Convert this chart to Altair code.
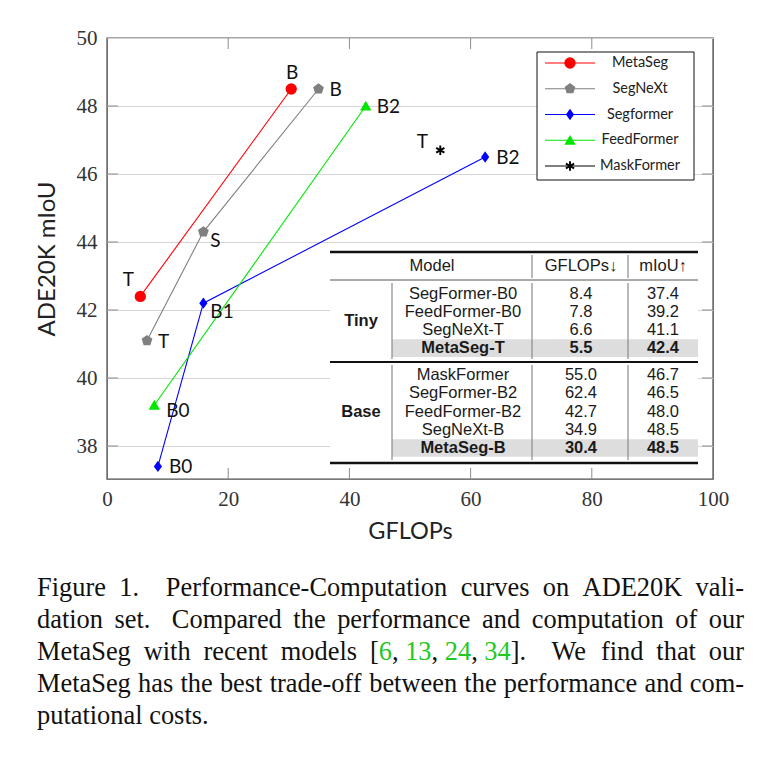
import altair as alt
import pandas as pd

# ---------------- data ----------------
series_names = ["MetaSeg", "SegNeXt", "Segformer", "FeedFormer", "MaskFormer"]
series_colors = ["#ff0000", "#808080", "#0000ff", "#00e600", "#000000"]

metaseg_gflops = [5.5, 30.4]
metaseg_miou = [42.4, 48.5]
metaseg_tags = ["T", "B"]
segnext_gflops = [6.6, 15.9, 34.9]
segnext_miou = [41.1, 44.3, 48.5]
segnext_tags = ["T", "S", "B"]
segformer_gflops = [8.4, 15.9, 62.4]
segformer_miou = [37.4, 42.2, 46.5]
segformer_tags = ["B0", "B1", "B2"]
feedformer_gflops = [7.8, 42.7]
feedformer_miou = [39.2, 48.0]
feedformer_tags = ["B0", "B2"]
maskformer_gflops = [55.0]
maskformer_miou = [46.7]
maskformer_tags = ["T"]

x_ticks = [0, 20, 40, 60, 80, 100]
y_ticks = [38, 40, 42, 44, 46, 48, 50]

table_header = ["Model", "GFLOPs\u2193", "mIoU\u2191"]
table_groups = ["Tiny", "Tiny", "Tiny", "Tiny", "Base", "Base", "Base", "Base", "Base"]
table_models = ["SegFormer-B0", "FeedFormer-B0", "SegNeXt-T", "MetaSeg-T",
                "MaskFormer", "SegFormer-B2", "FeedFormer-B2", "SegNeXt-B", "MetaSeg-B"]
table_gflops = ["8.4", "7.8", "6.6", "5.5", "55.0", "62.4", "42.7", "34.9", "30.4"]
table_miou = ["37.4", "39.2", "41.1", "42.4", "46.7", "46.5", "48.0", "48.5", "48.5"]
table_bold = [False, False, False, True, False, False, False, False, True]

caption_lines = [
    ["Figure", "1.", "Performance-Computation", "curves", "on", "ADE20K", "vali-"],
    ["dation", "set.", "Compared", "the", "performance", "and", "computation", "of", "our"],
    ["MetaSeg", "with", "recent", "models", "[6, 13, 24, 34].", "We", "find", "that", "our"],
    ["MetaSeg", "has", "the", "best", "trade-off", "between", "the", "performance", "and", "com-"],
    ["putational", "costs."],
]

# ---------------- layout / style ----------------
X0, Y0, W, H = 107, 38, 606, 441
XMIN, XMAX = 0.0, 100.0
YMAX = 50.0
YMIN = YMAX - H / 34.0


def px2x(px):
    return XMIN + (px - X0) / W * (XMAX - XMIN)


def px2y(py):
    return YMAX - (py - Y0) / H * (YMAX - YMIN)


XS = alt.Scale(domain=[XMIN, XMAX], nice=False, zero=False)
YS = alt.Scale(domain=[YMIN, YMAX], nice=False, zero=False)
XAXIS = alt.Axis(values=x_ticks, grid=False, ticks=False, domain=False,
                 labelFont="Liberation Serif", labelFontSize=21, labelColor="#333333",
                 labelPadding=9, labelFlush=False, title="GFLOPs", titleFont="Lato",
                 titleFontSize=23.5, titleFontWeight="normal", titleColor="#222222",
                 titlePadding=10)
YAXIS = alt.Axis(values=y_ticks, grid=True, gridColor="#d4d4d4", gridWidth=1,
                 ticks=False, domain=False, labelFont="Liberation Serif",
                 labelFontSize=21, labelColor="#333333", labelPadding=10,
                 labelFlush=False, title="ADE20K mIoU", titleFont="Lato",
                 titleFontSize=24, titleFontWeight="normal", titleColor="#222222",
                 titlePadding=17)


def X(f, **k):
    return alt.X(f + ":Q", scale=XS, axis=XAXIS, **k)


def Y(f, **k):
    return alt.Y(f + ":Q", scale=YS, axis=YAXIS, **k)


CS = alt.Scale(domain=series_names, range=series_colors)
PENT = "M0,-1L0.951,-0.309L0.588,0.809L-0.588,0.809L-0.951,-0.309Z"
DIAM = "M0,-1L0.72,0L0,1L-0.72,0Z"
TRI = "M0,-0.95L1,0.8L-1,0.8Z"
AST = "M0,-1L0,1M-0.866,-0.5L0.866,0.5M-0.866,0.5L0.866,-0.5"
SS = alt.Scale(domain=series_names, range=["circle", PENT, DIAM, TRI, AST])

label_pos = [["above left", "above"], ["right", "below right", "right"],
             ["right", "below right", "right"], ["right low", "right"], ["left"]]
pos_styles = {
    "right": ("left", 11, 1),
    "below right": ("left", 7, 9),
    "right low": ("left", 12, 6),
    "above": ("center", 1, -16),
    "above left": ("center", -12, -16),
    "left": ("center", -18, -8),
}

# ---------------- plot data frame ----------------
rows = []
for name, gx, gy, tags, poss in zip(
        series_names,
        [metaseg_gflops, segnext_gflops, segformer_gflops, feedformer_gflops, maskformer_gflops],
        [metaseg_miou, segnext_miou, segformer_miou, feedformer_miou, maskformer_miou],
        [metaseg_tags, segnext_tags, segformer_tags, feedformer_tags, maskformer_tags],
        label_pos):
    for i, (a, b, t, p) in enumerate(zip(gx, gy, tags, poss)):
        rows.append(dict(series=name, gflops=a, miou=b, tag=t, idx=i, pos=p))
df = pd.DataFrame(rows)
base = alt.Chart(df)

layers = []

# inward ticks
tick_len = 11
xt = alt.Chart(pd.DataFrame({"v": x_ticks[1:-1]}))
layers.append(xt.mark_rule(color="#8c8c8c", strokeWidth=1).encode(
    x=X("v"), y=alt.value(0), y2=alt.value(tick_len)))
layers.append(xt.mark_rule(color="#8c8c8c", strokeWidth=1).encode(
    x=X("v"), y=alt.value(H - tick_len), y2=alt.value(H)))
yt = alt.Chart(pd.DataFrame({"v": y_ticks[:-1]}))
layers.append(yt.mark_rule(color="#8c8c8c", strokeWidth=1).encode(
    y=Y("v"), x=alt.value(0), x2=alt.value(tick_len)))
layers.append(yt.mark_rule(color="#8c8c8c", strokeWidth=1).encode(
    y=Y("v"), x=alt.value(W - tick_len), x2=alt.value(W)))

# series lines and markers
layers.append(base.mark_line(strokeWidth=1.1).encode(
    x=X("gflops"), y=Y("miou"),
    color=alt.Color("series:N", scale=CS, legend=None), order="idx:Q"))
layers.append(base.transform_filter(alt.datum.series != "MaskFormer").mark_point(
    filled=True, opacity=1, size=128).encode(
    x=X("gflops"), y=Y("miou"),
    color=alt.Color("series:N", scale=CS, legend=None),
    shape=alt.Shape("series:N", scale=SS, legend=None)))
layers.append(base.transform_filter(alt.datum.series == "MaskFormer").mark_point(
    shape=AST, filled=False, opacity=1, size=90, strokeWidth=1.9, color="black").encode(
    x=X("gflops"), y=Y("miou")))

# point labels
for kw, (al, dx, dy) in pos_styles.items():
    layers.append(base.transform_filter(alt.datum.pos == kw).mark_text(
        align=al, baseline="middle", dx=dx, dy=dy, font="Lato", fontSize=19,
        color="#111111").encode(x=X("gflops"), y=Y("miou"), text="tag:N"))

# ---------------- table ----------------
TL, TR, TT, TB = 330, 698, 249, 466
one = alt.Chart(pd.DataFrame({"a": [0]}))
layers.append(one.mark_rect(fill="white", stroke=None).encode(
    x=alt.value(TL - X0), x2=alt.value(TR - X0), y=alt.value(TT - Y0), y2=alt.value(TB - Y0)))

row_pitch = 18.2
tiny_first, base_first = 293.5, 375.2
row_py = []
ti = bi = 0
for g in table_groups:
    if g == "Tiny":
        row_py.append(tiny_first + ti * row_pitch)
        ti += 1
    else:
        row_py.append(base_first + bi * row_pitch)
        bi += 1
tdf = pd.DataFrame(dict(group=table_groups, model=table_models, gfl=table_gflops,
                        miou=table_miou, bold=table_bold,
                        ty=[px2y(p) for p in row_py],
                        hy1=[px2y(p - 8.8) for p in row_py],
                        hy2=[px2y(p + 8.8) for p in row_py]))
tch = alt.Chart(tdf)
layers.append(tch.transform_filter(alt.datum.bold).mark_rect(fill="#dddddd").encode(
    x=alt.value(392 - X0), x2=alt.value(TR - X0), y=Y("hy1"), y2="hy2"))

hr = pd.DataFrame(dict(ry=[px2y(252), px2y(280), px2y(362), px2y(463)],
                       w=[2.4, 1.0, 2.0, 2.6],
                       c=["#111111", "#555555", "#111111", "#111111"]))
layers.append(alt.Chart(hr).mark_rule().encode(
    x=alt.value(TL - X0), x2=alt.value(TR - X0), y=Y("ry"),
    strokeWidth=alt.StrokeWidth("w:Q", scale=None), stroke=alt.Stroke("c:N", scale=None)))

vsegs = []
for (y1, y2, xs) in [(255, 278, [532, 628]), (283, 359, [392, 532, 628]), (365, 460, [392, 532, 628])]:
    for xx in xs:
        vsegs.append(dict(vx=px2x(xx), vy1=px2y(y1), vy2=px2y(y2)))
layers.append(alt.Chart(pd.DataFrame(vsegs)).mark_rule(color="#8a8a8a", strokeWidth=1.2).encode(
    x=X("vx"), y=Y("vy1"), y2="vy2"))

hdf = pd.DataFrame(dict(t=table_header, hx=[px2x(432), px2x(581), px2x(663)], hy=[px2y(265.5)] * 3))
layers.append(alt.Chart(hdf).mark_text(font="Liberation Sans", fontSize=16.5, color="#1a1a1a",
                                       baseline="middle").encode(x=X("hx"), y=Y("hy"), text="t:N"))

for col, cx in [("model", 463), ("gfl", 581), ("miou", 663)]:
    for bold in [False, True]:
        layers.append(tch.transform_filter(alt.datum.bold == bold).mark_text(
            font="Liberation Sans", fontSize=16.5, color="#1a1a1a", baseline="middle",
            fontWeight="bold" if bold else "normal").encode(
            x=alt.value(cx - X0), y=Y("ty"), text=col + ":N"))

gdf = tdf.groupby("group", sort=False)["ty"].mean().reset_index()
layers.append(alt.Chart(gdf).mark_text(font="Liberation Sans", fontSize=16.5, fontWeight="bold",
                                       color="#1a1a1a", baseline="middle").encode(
    x=alt.value(361 - X0), y=Y("ty"), text="group:N"))

# ---------------- legend ----------------
layers.append(one.mark_rect(fill="white", stroke="#111111", strokeWidth=1).encode(
    x=alt.value(537 - X0), x2=alt.value(694 - X0), y=alt.value(52 - Y0), y2=alt.value(180 - Y0)))
leg_py = [63 + 25.75 * i for i in range(len(series_names))]
ldf = pd.DataFrame(dict(series=series_names, ly=[px2y(p) for p in leg_py],
                        lx1=px2x(545), lx2=px2x(595), mx=px2x(570), tx=px2x(640)))
lch = alt.Chart(ldf)
layers.append(lch.mark_rule(strokeWidth=1.1).encode(
    x=X("lx1"), x2="lx2", y=Y("ly"), color=alt.Color("series:N", scale=CS, legend=None)))
layers.append(lch.transform_filter(alt.datum.series != "MaskFormer").mark_point(
    filled=True, opacity=1, size=128).encode(
    x=X("mx"), y=Y("ly"), color=alt.Color("series:N", scale=CS, legend=None),
    shape=alt.Shape("series:N", scale=SS, legend=None)))
layers.append(lch.transform_filter(alt.datum.series == "MaskFormer").mark_point(
    shape=AST, filled=False, opacity=1, size=90, strokeWidth=1.9, color="black").encode(
    x=X("mx"), y=Y("ly")))
layers.append(lch.mark_text(font="Lato", fontSize=14.5, color="#222222", baseline="middle").encode(
    x=X("tx"), y=Y("ly"), text="series:N"))

# ---------------- caption (justified) ----------------
TIMES = {" ": 250, ".": 250, ",": 250, "-": 333, "[": 333, "]": 333,
         "a": 444, "b": 500, "c": 444, "d": 500, "e": 444, "f": 333, "g": 500, "h": 500,
         "i": 278, "j": 278, "k": 500, "l": 278, "m": 778, "n": 500, "o": 500, "p": 500,
         "q": 500, "r": 333, "s": 389, "t": 278, "u": 500, "v": 500, "w": 722, "x": 500,
         "y": 500, "z": 444, "A": 722, "C": 667, "D": 722, "E": 611, "F": 556, "K": 722,
         "M": 889, "P": 556, "S": 556, "W": 944}
CAP_FS = 26.4
CAP_L, CAP_R = 37, 744
CAP_BASE, CAP_LEAD = 596, 32.1
CITE_COLOR = "#22c722"


def tw(s):
    return sum(TIMES.get(c, 500) for c in s) / 1000.0 * CAP_FS


def runs(word):
    out, cur, cite, inside = [], "", None, False
    for ch in word:
        if ch == "[":
            inside = True
        if ch == "]":
            inside = False
        c = inside and ch.isdigit()
        if cite is None or c == cite:
            cur += ch
        else:
            out.append((cur, cite))
            cur = ch
        cite = c
    out.append((cur, cite))
    return out


cap_rows = []
for li, words in enumerate(caption_lines):
    justify = li < len(caption_lines) - 1
    widths = [tw(w) for w in words]
    g0 = 0.25 * CAP_FS
    weights = [3.0 if w.endswith(".") else 1.0 for w in words[:-1]]
    if justify and len(words) > 1:
        extra = (CAP_R - CAP_L - sum(widths) - g0 * (len(words) - 1)) / sum(weights)
    else:
        extra = 0.0
    xpos = CAP_L
    py = CAP_BASE + li * CAP_LEAD
    for wi, w in enumerate(words):
        xx = xpos
        for txt, cite in runs(w):
            cap_rows.append(dict(cx=px2x(xx), cy=px2y(py), t=txt,
                                 col=CITE_COLOR if cite else "#111111"))
            xx += tw(txt)
        if wi < len(words) - 1:
            xpos += widths[wi] + g0 + extra * weights[wi]
layers.append(alt.Chart(pd.DataFrame(cap_rows)).mark_text(
    align="left", baseline="alphabetic", font="Liberation Serif", fontSize=CAP_FS).encode(
    x=X("cx"), y=Y("cy"), text="t:N", fill=alt.Fill("col:N", scale=None)))

chart = alt.layer(*layers).properties(
    width=W, height=H,
    padding={"left": X0, "top": Y0, "right": 775 - X0 - W, "bottom": 761 - Y0 - H},
    autosize=alt.AutoSizeParams(type="none"),
).configure(background="white").configure_view(stroke="#4d4d4d", strokeWidth=1.4)

chart.save("out.html", embed_options={"renderer": "svg", "actions": False})
